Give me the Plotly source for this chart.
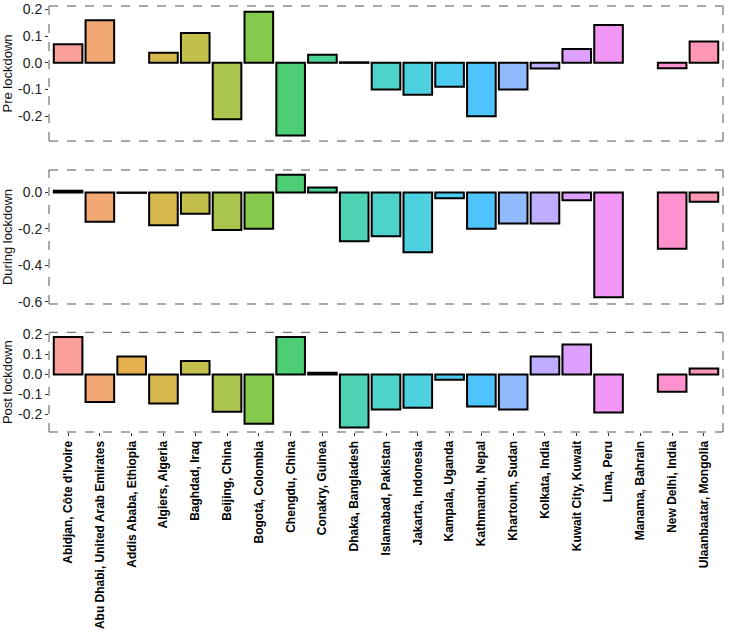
import math
import plotly.graph_objects as go

cities = ["Abidjan, Côte d'Ivoire", "Abu Dhabi, United Arab Emirates", "Addis Ababa, Ethiopia",
          "Algiers, Algeria", "Baghdad, Iraq", "Beijing, China", "Bogotá, Colombia",
          "Chengdu, China", "Conakry, Guinea", "Dhaka, Bangladesh", "Islamabad, Pakistan",
          "Jakarta, Indonesia", "Kampala, Uganda", "Kathmandu, Nepal", "Khartoum, Sudan",
          "Kolkata, India", "Kuwait City, Kuwait", "Lima, Peru", "Manama, Bahrain",
          "New Delhi, India", "Ulaanbaatar, Mongolia"]

pre = [0.070, 0.160, None, 0.038, 0.112, -0.211, 0.191, -0.272, 0.030, 0.002,
       -0.100, -0.120, -0.090, -0.200, -0.100, -0.021, 0.052, 0.142, None, -0.020, 0.080]
during = [0.010, -0.160, -0.002, -0.180, -0.117, -0.206, -0.199, 0.097, 0.027, -0.268,
          -0.240, -0.328, -0.031, -0.199, -0.170, -0.170, -0.042, -0.574, None, -0.308, -0.051]
post = [0.188, -0.138, 0.090, -0.145, 0.068, -0.187, -0.247, 0.188, 0.008, -0.265,
        -0.175, -0.167, -0.027, -0.160, -0.175, 0.090, 0.150, -0.190, None, -0.087, 0.030]


def hcl(h, c=100, l=65):
    # polar LUV -> sRGB, like R's hcl()
    xn, yn, zn = 95.047, 100.0, 108.883
    un = 4 * xn / (xn + 15 * yn + 3 * zn)
    vn = 9 * yn / (xn + 15 * yn + 3 * zn)
    u = c * math.cos(math.radians(h))
    v = c * math.sin(math.radians(h))
    y = yn * ((l + 16) / 116) ** 3
    up = u / (13 * l) + un
    vp = v / (13 * l) + vn
    x = y * 9 * up / (4 * vp)
    z = y * (12 - 3 * up - 20 * vp) / (4 * vp)
    x, y, z = x / 100, y / 100, z / 100
    rl = 3.2404542 * x - 1.5371385 * y - 0.4985314 * z
    gl = -0.9692660 * x + 1.8760108 * y + 0.0415560 * z
    bl = 0.0556434 * x - 0.2040259 * y + 1.0572252 * z

    def gam(t):
        t = min(max(t, 0), 1)
        return 12.92 * t if t <= 0.0031308 else 1.055 * t ** (1 / 2.4) - 0.055
    return [gam(t) * 255 for t in (rl, gl, bl)]


def fade(rgb, a=0.7):
    return "rgb(%d,%d,%d)" % tuple(round(c * a + 255 * (1 - a)) for c in rgb)


n = len(cities)
colors = [fade(hcl(15 + 360 * j / n)) for j in range(n)]

panels = [
    ("Pre lockdown", pre, [0.2, 0.1, 0.0, -0.1, -0.2], [-0.293, 0.213]),
    ("During lockdown", during, [0.0, -0.2, -0.4, -0.6], [-0.6115, 0.1235]),
    ("Post lockdown", post, [0.2, 0.1, 0.0, -0.1, -0.2], [-0.288, 0.211]),
]
domains = [[0.683, 1.0], [0.3005, 0.615], [0.0, 0.234]]

fig = go.Figure()
layout = dict(width=729, height=634, plot_bgcolor="white", paper_bgcolor="white",
              margin=dict(l=49, r=6, t=6, b=202), showlegend=False,
              font=dict(family="Liberation Sans, Arial", color="#1a1a1a"))
shapes = []
dash = dict(color="#555", width=1, dash="dash")
for i, (title, vals, ticks, rng) in enumerate(panels):
    k = "" if i == 0 else str(i + 1)
    fig.add_trace(go.Bar(x=cities, y=vals, marker=dict(color=colors, line=dict(color="black", width=2)),
                         xaxis="x" + k, yaxis="y" + k, width=0.9))
    layout["xaxis" + k] = dict(domain=[0, 1], anchor="y" + k, type="category", automargin=False,
                               categoryorder="array", categoryarray=cities,
                               range=[-0.6, n - 0.4], showgrid=False, zeroline=False,
                               showticklabels=(i == 2), ticks="outside" if i == 2 else "",
                               ticklen=3, tickcolor="#333", tickangle=-90,
                               tickprefix="<b>", ticksuffix="</b>",
                               tickfont=dict(size=12, color="black"))
    layout["yaxis" + k] = dict(domain=domains[i], anchor="x" + k, range=rng, showgrid=False,
                               zeroline=False, tickvals=ticks, automargin=False,
                               ticktext=["%.1f" % t if t >= 0 else "-%.1f" % abs(t) for t in ticks],
                               ticks="outside", ticklen=3, tickcolor="#333",
                               tickfont=dict(size=14, color="#222"),
                               title=dict(text=title, font=dict(size=13, color="#111"), standoff=4))
    yr = "y%s domain" % k
    for x0, y0, x1, y1 in [(0, 0, 1, 0), (0, 1, 1, 1), (0, 0, 0, 1), (1, 0, 1, 1)]:
        shapes.append(dict(type="line", xref="paper", yref=yr, x0=x0, y0=y0, x1=x1, y1=y1, line=dash))
layout["shapes"] = shapes
fig.update_layout(**layout)
fig.write_html("out.html", config={"displayModeBar": False},
               post_script="document.body.style.margin='0';")
